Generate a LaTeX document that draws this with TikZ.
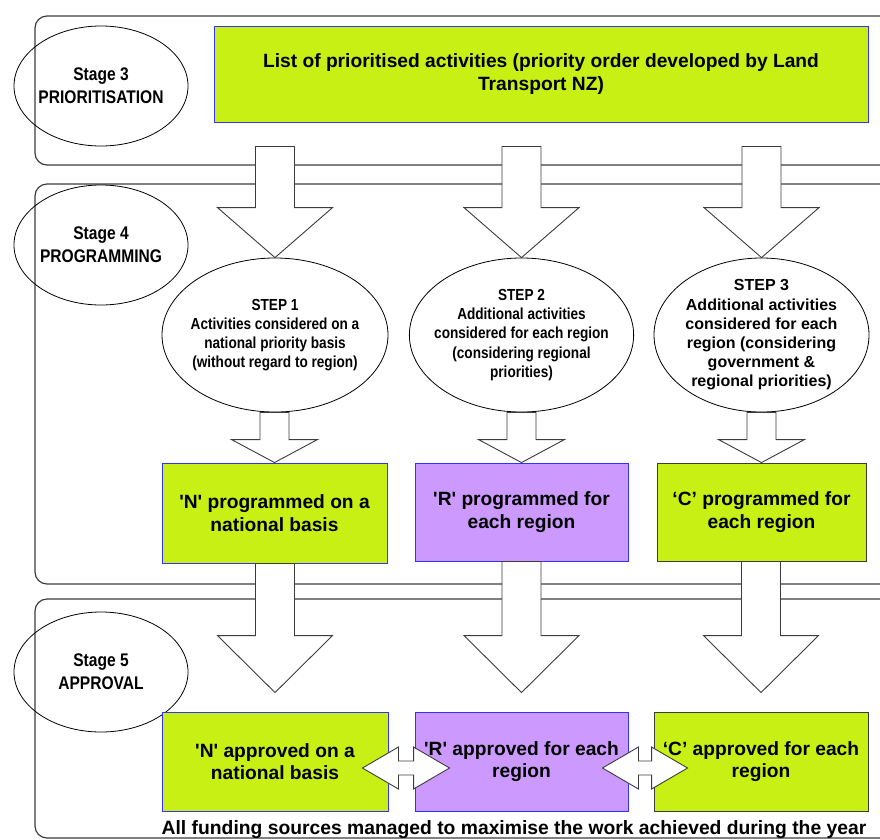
\documentclass[tikz,border=0pt]{standalone}
\usepackage{fontspec}
\setmainfont{Liberation Sans}
\newfontfamily\narrowfont{Liberation Sans}[FakeStretch=0.85]
\usetikzlibrary{shapes.geometric,calc}
\definecolor{boxgreen}{RGB}{200,240,20}
\definecolor{boxpurple}{RGB}{204,153,255}
\definecolor{boxblue}{RGB}{50,50,255}
\definecolor{panelgray}{RGB}{60,60,60}
\newcommand{\sq}{\textquotesingle}
\tikzset{
  panel/.style={draw=panelgray, line width=1.2pt, rounded corners=12pt},
  stage/.style={ellipse, draw=black, line width=0.8pt, minimum width=174pt, minimum height=120pt,
    inner xsep=-8pt, inner ysep=-4pt, align=center, font=\narrowfont\bfseries\fontsize{18.3}{23}\selectfont},
  stepell/.style={ellipse, draw=black, fill=white, line width=0.8pt, minimum height=154pt,
    inner xsep=-8pt, inner ysep=-10pt, align=center},
  stepnarrow/.style={stepell, font=\narrowfont\bfseries\fontsize{16}{19.2}\selectfont},
  stepwide/.style={stepell, font=\bfseries\fontsize{16}{19.2}\selectfont},
  greenbox/.style={rectangle, draw=boxblue, fill=boxgreen, line width=0.9pt, inner sep=0pt, align=center,
    font=\bfseries\fontsize{19.2}{22.5}\selectfont},
  greenboxdark/.style={greenbox, draw=panelgray},
  purplebox/.style={greenbox, fill=boxpurple},
  blockarrow/.style={draw=panelgray, fill=white, line width=0.9pt, line join=miter},
  notetext/.style={font=\bfseries\fontsize{19.3}{22}\selectfont, inner sep=0pt}
}
\newcommand{\vblock}[5]{%
  \draw[blockarrow] let \p1=#1, \p2=#2 in
   (\x2-#3,\y1) -- (\x2+#3,\y1) -- (\x2+#3,\y2+#5) -- (\x2+#4,\y2+#5) -- (\x2,\y2)
   -- (\x2-#4,\y2+#5) -- (\x2-#3,\y2+#5) -- cycle;}
\newcommand{\hblock}[5]{%
  \draw[blockarrow] let \p1=#1, \p2=#2 in
   (\x1,\y1) -- (\x1+#5,\y1+#4) -- (\x1+#5,\y1+#3) -- (\x2-#5,\y1+#3) -- (\x2-#5,\y1+#4)
   -- (\x2,\y1) -- (\x2-#5,\y1-#4) -- (\x2-#5,\y1-#3) -- (\x1+#5,\y1-#3) -- (\x1+#5,\y1-#4) -- cycle;}
\begin{document}
\begin{tikzpicture}[x=1pt,y=1pt]
\clip (0,0) rectangle (880,-839);
% panels
\draw[panel] (920,-16) -- (35,-16) -- (35,-165) -- (920,-165);
\draw[panel] (920,-184) -- (35,-184) -- (35,-584) -- (920,-584);
\draw[panel] (920,-599) -- (35,-599) -- (35,-838) -- (920,-838);
% stage ellipses
\node[stage] (st3) at (101,-86) {Stage 3\\PRIORITISATION};
\node[stage] (st4) at (101,-245) {Stage 4\\PROGRAMMING};
\node[stage] (st5) at (101,-672) {Stage 5\\APPROVAL};
% top box
\node[greenbox, minimum width=654pt, minimum height=96pt] (prio) at (541,-74)
  {List of prioritised activities (priority order developed by Land\\Transport NZ)};
% step ellipses
\node[stepnarrow, minimum width=226pt] (s1) at (275,-335)
  {STEP 1\\Activities considered on a\\national priority basis\\(without regard to region)};
\node[stepnarrow, minimum width=217pt] (s2) at (521.5,-335)
  {STEP 2\\Additional activities\\considered for each region\\(considering regional\\priorities)};
\node[stepwide, minimum width=215pt] (s3) at (761.5,-335)
  {STEP 3\\Additional activities\\considered for each\\region (considering\\government \&\\regional priorities)};
% programmed boxes
\node[greenbox, minimum width=225pt, minimum height=100pt] (pN) at (274.5,-513)
  {\sq N\sq{} programmed on a\\national basis};
\node[purplebox, minimum width=213pt, minimum height=98pt] (pR) at (521.5,-512)
  {\sq R\sq{} programmed for\\each region};
\node[greenboxdark, minimum width=209pt, minimum height=98pt] (pC) at (761.5,-512)
  {‘C’ programmed for\\each region};
% approval boxes
\node[greenbox, minimum width=226pt, minimum height=99pt] (aN) at (275,-761.5)
  {\sq N\sq{} approved on a\\national basis};
\node[purplebox, minimum width=213pt, minimum height=99pt] (aR) at (521.5,-761.5)
  {\sq R\sq{} approved for each\\region};
\node[greenboxdark, minimum width=214pt, minimum height=99pt] (aC) at (761,-761.5)
  {‘C’ approved for each\\region};
% arrows prioritisation -> steps
\vblock{($(prio.south)+(0,-24)$)}{(s1.north)}{19.5pt}{57.5pt}{50pt}
\vblock{($(prio.south)+(0,-24)$)}{(s2.north)}{19.5pt}{57.5pt}{50pt}
\vblock{($(prio.south)+(0,-24)$)}{(s3.north)}{19.5pt}{57.5pt}{50pt}
% steps -> programmed
\vblock{(s1.south)}{(pN.north)}{14.5pt}{43pt}{23pt}
\vblock{(s2.south)}{(pR.north)}{14.5pt}{43pt}{23pt}
\vblock{(s3.south)}{(pC.north)}{14.5pt}{43pt}{23pt}
% programmed -> approved
\vblock{(pN.south)}{($(aN.north)+(0,19)$)}{19.5pt}{57.5pt}{57pt}
\vblock{(pR.south)}{($(aR.north)+(0,19)$)}{19.5pt}{57.5pt}{57pt}
\vblock{(pC.south)}{($(aC.north)+(0,19)$)}{19.5pt}{57.5pt}{57pt}
% double arrows
\hblock{($(aN.east)+(-26,-6.5)$)}{($(aR.west)+(35,-6.5)$)}{7pt}{21pt}{36pt}
\hblock{($(aR.east)+(-26,-6.5)$)}{($(aC.west)+(34,-6.5)$)}{7pt}{21pt}{36pt}
% note
\node[notetext] (note) at (514,-830) {All funding sources managed to maximise the work achieved during the year};
\end{tikzpicture}
\end{document}
